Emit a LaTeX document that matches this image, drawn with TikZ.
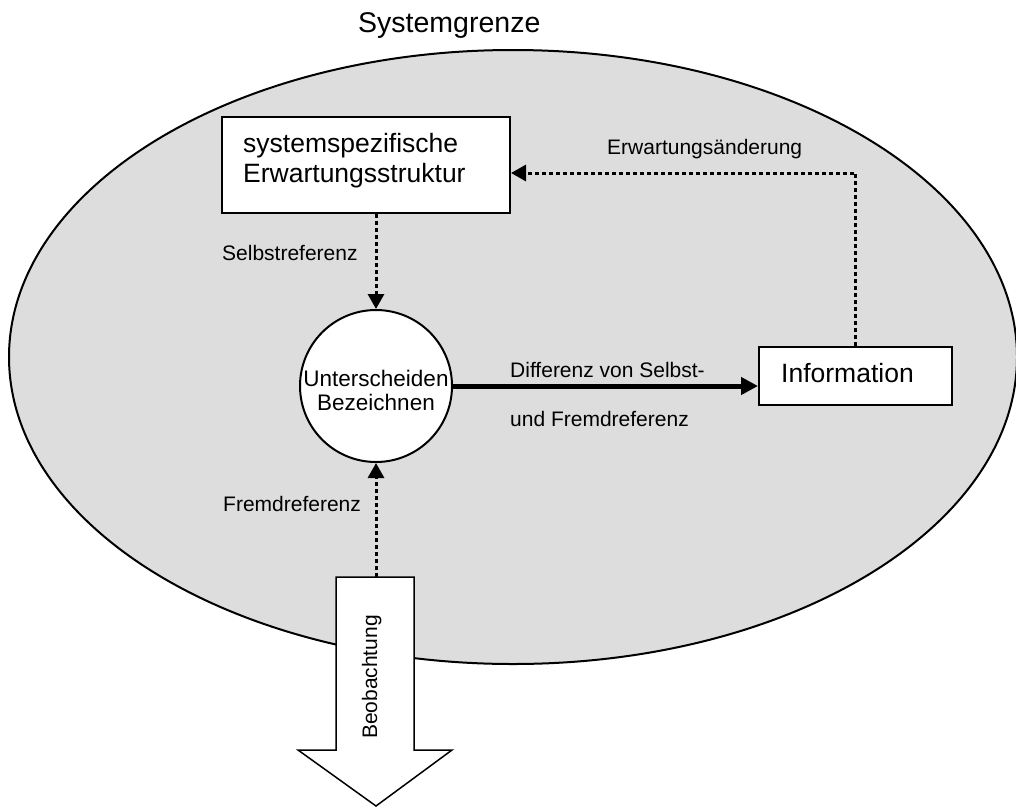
\documentclass[tikz,border=0pt]{standalone}
\usepackage{fontspec}
\setmainfont{Liberation Sans}
\usetikzlibrary{arrows.meta,calc}
\definecolor{sysfill}{RGB}{221,221,221}
\begin{document}
\begin{tikzpicture}[x=1pt,y=-1pt,
  shapebox/.style={draw=black,line width=2pt,fill=white,rectangle,inner sep=0pt},
  bigtext/.style={inner sep=0pt,anchor=base west,font=\fontsize{26.5}{30}\selectfont},
  smalltext/.style={inner sep=0pt,anchor=base west,font=\fontsize{21}{24}\selectfont},
  dotarrow/.style={line width=3pt,dash pattern=on 4pt off 3pt,-{Triangle[length=15pt,width=16pt]}},
  boldarrow/.style={line width=5pt,-{Triangle[length=17pt,width=17pt]}}]
\useasboundingbox (0,0) rectangle (1016,806);

% system boundary
\draw[line width=2pt,fill=sysfill] (513,357) ellipse [x radius=504, y radius=307];
\node[smalltext,font=\fontsize{28.5}{32}\selectfont] (grenze) at (358,32) {Systemgrenze};

% observation block arrow
\draw[line width=1.5pt,fill=white] (336,577) -- (414,577) -- (414,750) -- (452,750)
  -- (376,806) -- (298,750) -- (336,750) -- cycle;
\coordinate (beotop) at (376,577);
\node[smalltext,anchor=base,rotate=90] (beob) at (377,677) {Beobachtung};

% nodes (multi-line texts are anchored at the baseline of their last line)
\node[shapebox,minimum width=288pt,minimum height=96pt] (erw) at (366,165) {};
\node[bigtext,align=left] (erwtext) at (243,182) {systemspezifische\\Erwartungsstruktur};

\node[draw=black,line width=2pt,fill=white,circle,minimum size=152pt,inner sep=0pt] (ub) at (376,386) {};
\node[smalltext,anchor=base,align=center,font=\fontsize{22.5}{24}\selectfont] (ubtext) at (376,410) {Unterscheiden\\Bezeichnen};

\node[shapebox,minimum width=193pt,minimum height=58pt] (info) at (855.5,376) {};
\node[bigtext] (infotext) at (781,382) {Information};

% connectors
\draw[dotarrow] (erw.south -| ub.north) -- (ub.north);
\draw[dotarrow] (beotop) -- (ub.south);
\draw[boldarrow] (ub.east) -- (ub.east -| info.west);
\draw[dotarrow] (info.north) |- ($(erw.east)+(0,8)$);

% connector labels
\node[smalltext] (lselbst) at (222,260) {Selbstreferenz};
\node[smalltext] (lfremd) at (223,511) {Fremdreferenz};
\node[smalltext] (ldiff1) at (510,377) {Differenz von Selbst-};
\node[smalltext] (ldiff2) at (510,426) {und Fremdreferenz};
\node[smalltext] (lerw) at (607,154) {Erwartungsänderung};
\end{tikzpicture}
\end{document}
